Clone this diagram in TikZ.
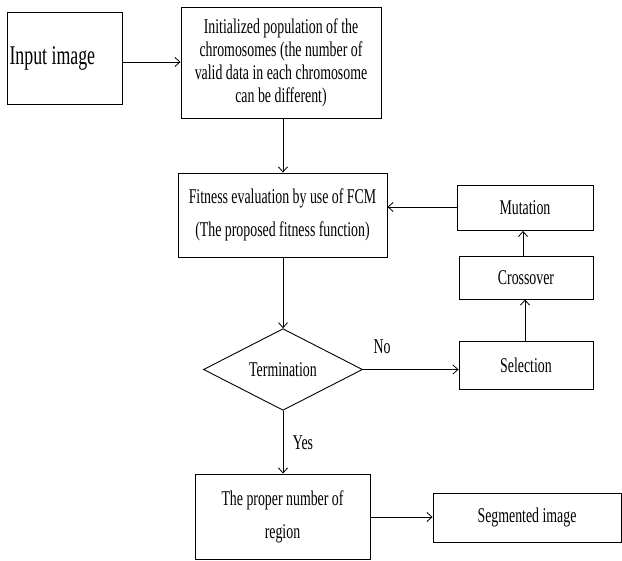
\documentclass[tikz,border=0pt]{standalone}
\usepackage{fontspec}
\setmainfont{Liberation Serif}[FakeStretch=0.66]
\usetikzlibrary{shapes.geometric,arrows.meta}

\tikzset{
  box/.style={draw, line width=0.9pt, align=center, inner sep=0pt, font=\fontsize{21}{23}\selectfont},
  flow/.style={-{Straight Barb[length=5pt,width=9pt]}, line width=0.8pt}
}

\begin{document}
\begin{tikzpicture}[x=1pt,y=-1pt]
                \useasboundingbox[fill=white] (0,0) rectangle (622,561);
                \node[box, minimum width=115pt, minimum height=92pt, inner xsep=2pt, text width=111pt, align=flush left, font=\fontsize{27}{30}\selectfont] (input) at (65,58.5) {Input image};
                \node[box, minimum width=200pt, minimum height=111pt] (init) at (281,62.5) {Initialized population of the\\chromosomes (the number of\\valid data in each chromosome\\can be different)};
                \node[box, minimum width=209pt, minimum height=84pt, font=\fontsize{21}{33}\selectfont] (fit) at (282.5,215) {Fitness evaluation by use of FCM\\(The proposed fitness function)};
                \node[box, minimum width=136pt, minimum height=45pt] (mut) at (525,208) {Mutation};
                \node[box, minimum width=134pt, minimum height=43pt] (cross) at (526,277.5) {Crossover};
                \node[box, minimum width=134pt, minimum height=48pt] (sel) at (526,365) {Selection};
                \node[box, diamond, minimum width=159pt, minimum height=77pt] (term) at (283,369.5) {Termination};
                \node[box, minimum width=175pt, minimum height=85pt, font=\fontsize{21}{33}\selectfont] (proper) at (282.5,516.5) {The proper number of\\region};
                \node[box, minimum width=188pt, minimum height=49pt] (seg) at (527,517.5) {Segmented image};
                \node[font=\fontsize{21}{23}\selectfont] (no) at (382,347) {No};
                \node[font=\fontsize{21}{23}\selectfont] (yes) at (303,443) {Yes};
                % connectors
                \draw[flow] (input.east |- 0,62) -- (init.west |- 0,62);
                \draw[flow] (init.south -| 283,0) -- (fit.north -| 283,0);
                \draw[flow] (fit.south -| 283,0) -- (term.north);
                \draw[flow] (term.east) -- (sel.west |- term.east);
                \draw[flow] (sel.north -| 525,0) -- (cross.south -| 525,0);
                \draw[flow] (cross.north -| 523,0) -- (mut.south -| 523,0);
                \draw[flow] (mut.west |- 0,207) -- (fit.east |- 0,207);
                \draw[flow] (term.south) -- (proper.north -| term.south);
                \draw[flow] (proper.east |- 0,517) -- (seg.west |- 0,517);
            \end{tikzpicture}
\end{document}
